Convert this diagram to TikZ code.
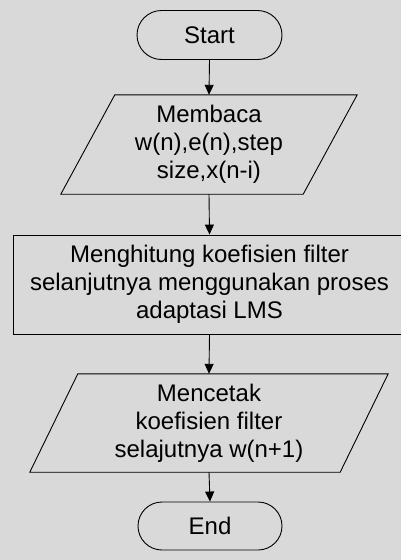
\documentclass[tikz,border=0pt]{standalone}
\usepackage{fontspec}
\setmainfont{Liberation Sans}
\usetikzlibrary{calc,arrows.meta}
\definecolor{bgcol}{HTML}{D9D9D9}
\begin{document}
\begin{tikzpicture}[x=1pt,y=-1pt,
  every node/.style={font=\fontsize{24}{28}\selectfont, align=center, inner sep=0pt},
  termbox/.style={draw, line width=0.9pt, rounded corners=24.5pt, minimum width=145pt, minimum height=49pt},
  iobox/.style={minimum height=99pt},
  procbox/.style={draw, line width=0.9pt, minimum width=393pt, minimum height=99pt},
  flow/.style={line width=0.9pt, -{Triangle[length=10pt,width=9pt]}},
  edge/.style={line width=0.9pt}]
\fill[bgcol] (0,0) rectangle (401,560);
\clip (0,0) rectangle (401,560);
\useasboundingbox (0,0) rectangle (401,560);
\node[termbox] (start) at (209.5,35) {Start};
\node[iobox, minimum width=242pt] (in) at (209,144.5) {Membaca\\w(n),e(n),step\\size,x(n-i)};
\draw[edge] ($(in.north west)+(27,0)$) -- ($(in.north east)+(27,0)$) -- ($(in.south east)+(-27,0)$) -- ($(in.south west)+(-27,0)$) -- cycle;
\node[procbox] (proc) at (209.5,284.5) {Menghitung koefisien filter\\selanjutnya menggunakan proses\\adaptasi LMS};
\node[iobox, minimum width=310pt, minimum height=98pt] (out) at (209,423) {Mencetak\\koefisien filter\\selajutnya w(n+1)};
\draw[edge] ($(out.north west)+(24,0)$) -- ($(out.north east)+(24,0)$) -- ($(out.south east)+(-24,0)$) -- ($(out.south west)+(-24,0)$) -- cycle;
\node[termbox, minimum width=144pt, minimum height=48pt, rounded corners=24pt] (end) at (210,526) {End};
\draw[flow] (start.south) -- (in.north);
\draw[flow] (in.south) -- (proc.north);
\draw[flow] (proc.south) -- (out.north);
\draw[flow] (out.south) -- (end.north);
\end{tikzpicture}
\end{document}
